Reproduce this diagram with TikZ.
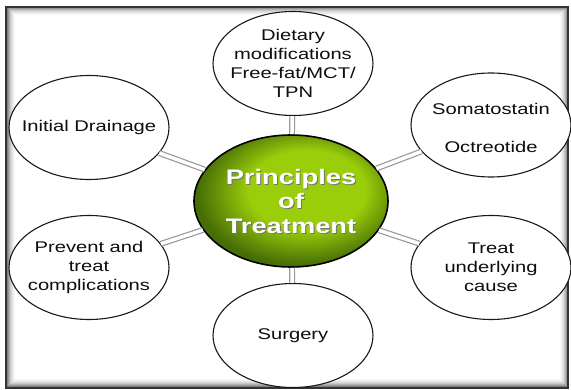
\documentclass[tikz,border=0pt]{standalone}
\usepackage{fontspec}
\usetikzlibrary{shapes.geometric}
\newfontfamily\outerfont{Liberation Sans}[FakeStretch=1.3]
\newfontfamily\hubfont{Liberation Sans Bold}[FakeStretch=1.3]
\newcommand\leaffont{\outerfont\fontsize{15.5}{19}\selectfont}
\newcommand\hubtextfont{\hubfont\fontsize{21}{24.5}\selectfont}
\definecolor{gIn}{RGB}{155,206,10}
\definecolor{gOut}{RGB}{70,110,6}
\pgfdeclareradialshading{greenball}{\pgfpoint{6bp}{6bp}}{color(0bp)=(gIn); color(15bp)=(gIn); color(27bp)=(gOut); color(50bp)=(gOut)}
\tikzset{
  leaf/.style={ellipse, draw=black!90, line width=1.1pt, fill=white,
    minimum width=160pt, minimum height=104pt, inner sep=0pt},
  leaftext/.style={align=center, font=\leaffont, text=black!95, inner sep=0pt},
  hub/.style={ellipse, draw=black, line width=1.6pt, shading=greenball,
    minimum width=194pt, minimum height=132pt, inner sep=0pt},
  hubtext/.style={align=center, font=\hubtextfont, inner sep=0pt},
  link/.style={draw=black!40, double=white, double distance=3.5pt, line width=1.2pt},
}
\begin{document}
\begin{tikzpicture}[x=1pt,y=-1pt]
\useasboundingbox (0,0) rectangle (571,390);
\fill[white] (0,0) rectangle (571,390);
% frame with inner shadow
\foreach \i/\o in {1/0.5,2/0.4,3/0.3,4/0.22,5/0.15,6/0.1,7/0.06,8/0.03}
  \draw[black, opacity=\o, line width=1pt] (6+\i,7+\i) rectangle (568-\i,388-\i);
\draw[black!80, line width=1.5pt] (6,7) rectangle (568,388);
% ellipses
\node[hub] (hub) at (291,201) {};
\node[leaf] (diet) at (293,63.5) {};
\node[leaf] (soma) at (491,125) {};
\node[leaf] (init) at (89,127.5) {};
\node[leaf] (prev) at (89,267.5) {};
\node[leaf] (treat) at (491,267.5) {};
\node[leaf] (surg) at (293,335.5) {};
% texts
\node[hubtext, text=black!55] at ([shift={(1pt,-1pt)}]hub.center) {Principles\\of\\Treatment};
\node[hubtext, text=white] (hubtxt) at (hub.center) {Principles\\of\\Treatment};
\node[leaftext] (diett) at (diet.center) {Dietary\\modifications\\Free-fat/MCT/\\TPN};
\node[leaftext] (somat) at ([yshift=-3pt]soma.center) {Somatostatin\\[19pt]Octreotide};
\node[leaftext] (initt) at (init.center) {Initial Drainage};
\node[leaftext] (prevt) at (prev.center) {Prevent and\\treat\\complications};
\node[leaftext] (treatt) at (treat.center) {Treat\\underlying\\cause};
\node[leaftext] (surgt) at (surg.center) {Surgery};
% connectors
\draw[link] (hub) -- (diet);
\draw[link] (hub) -- (soma);
\draw[link] (hub) -- (init);
\draw[link] (hub) -- (prev);
\draw[link] (hub) -- (treat);
\draw[link] (hub) -- (surg);
\end{tikzpicture}
\end{document}
